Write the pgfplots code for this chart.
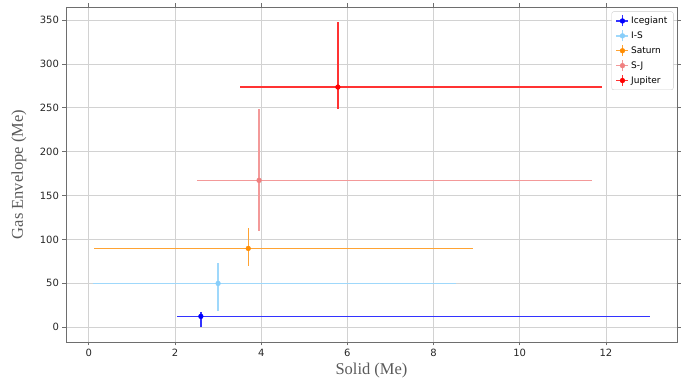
\documentclass[border=0pt]{standalone}
\usepackage{pgfplots}
\usepackage{pgfplotstable}
\pgfplotsset{compat=1.18}
\usepackage{fontspec}
\setmainfont{DejaVu Sans}
\newfontfamily\labelfont{Liberation Serif}
\usetikzlibrary{calc}

\definecolor{cIce}{RGB}{0,0,255}
\definecolor{cIS}{RGB}{135,206,250}
\definecolor{cSat}{RGB}{255,140,0}
\definecolor{cSJ}{RGB}{240,128,128}
\definecolor{cJup}{RGB}{255,0,0}
\definecolor{spinegray}{RGB}{110,110,110}
\definecolor{tickgray}{RGB}{38,38,38}
\definecolor{labelgray}{RGB}{90,90,90}
\definecolor{gridgray}{RGB}{210,210,210}
\definecolor{legendgray}{RGB}{204,204,204}

% solid and envelope masses with upper / lower uncertainties
\pgfplotstableread{
x     y      xp     xm    yp    ym
2.60  12.2   10.42  0.55  5.2   11.9
}\icegiant
\pgfplotstableread{
x     y      xp     xm    yp    ym
3.00  49.8   5.51   2.90  22.8  31.6
}\isat
\pgfplotstableread{
x     y      xp     xm    yp    ym
3.70  89.7   5.22   3.58  22.8  20.1
}\saturn
\pgfplotstableread{
x     y      xp     xm    yp    ym
3.95  167.3  7.72   1.43  81.5  57.8
}\sj
\pgfplotstableread{
x     y      xp     xm    yp    ym
5.78  273.7  6.12   2.28  73.7  25.1
}\jupiter

\pgfplotsset{
  planet/.style={
    only marks, mark=*, mark size=2.4pt, color=#1,
    mark options={draw=#1, fill=#1},
    error bars/.cd,
      x dir=both, x explicit, y dir=both, y explicit,
      error mark=none,
      error bar style={draw=#1!80!white, line width=1.5pt},
    /pgfplots/.cd,
    legend image code/.code={
      \draw[draw=#1!80!white, line width=1.5pt]
        (6pt,-5.5pt) -- (6pt,5.5pt) (0pt,0pt) -- (12pt,0pt);
      \fill[fill=#1] (6pt,0pt) circle (2.4pt);
    },
  },
}

\begin{document}
\begin{tikzpicture}
\begin{axis}[
  scale only axis,
  width=611pt, height=335pt,
  xmin=-0.53, xmax=13.65,
  ymin=-17, ymax=365,
  xtick={0,2,...,12},
  ytick={0,50,...,350},
  grid=major,
  grid style={draw=gridgray, line width=0.8pt},
  axis line style={draw=spinegray, line width=0.8pt},
  tick align=outside,
  major tick length=3.5pt,
  tick style={draw=spinegray, line width=0.8pt},
  ticklabel style={font=\fontsize{10}{12}\selectfont, text=tickgray},
  /pgf/number format/assume math mode=true,
  xlabel={Solid (Me)},
  ylabel={Gas Envelope (Me)},
  label style={font=\labelfont\fontsize{16.5}{19}\selectfont, text=labelgray},
  xlabel style={at={(axis description cs:0.5,-0.0866)}, anchor=center},
  ylabel style={at={(axis description cs:-0.0769,0.5)}, anchor=center},
  legend style={
    at={(axis description cs:1,1)}, anchor=north east,
    xshift=-3.5pt, yshift=-4.5pt,
    draw=legendgray, rounded corners=2pt,
    fill=white,
    font=\fontsize{9}{10.5}\selectfont,
    row sep=2.4pt, inner xsep=4pt, inner ysep=3pt,
    /tikz/every even column/.append style={column sep=1pt},
  },
  legend cell align=left,
]
\addplot[planet=cIce] table[x=x, y=y, x error plus=xp, x error minus=xm,
  y error plus=yp, y error minus=ym] {\icegiant};
\addlegendentry{Icegiant}
\addplot[planet=cIS] table[x=x, y=y, x error plus=xp, x error minus=xm,
  y error plus=yp, y error minus=ym] {\isat};
\addlegendentry{I-S}
\addplot[planet=cSat] table[x=x, y=y, x error plus=xp, x error minus=xm,
  y error plus=yp, y error minus=ym] {\saturn};
\addlegendentry{Saturn}
\addplot[planet=cSJ] table[x=x, y=y, x error plus=xp, x error minus=xm,
  y error plus=yp, y error minus=ym] {\sj};
\addlegendentry{S-J}
\addplot[planet=cJup] table[x=x, y=y, x error plus=xp, x error minus=xm,
  y error plus=yp, y error minus=ym] {\jupiter};
\addlegendentry{Jupiter}
\end{axis}
\pgfresetboundingbox
\path[use as bounding box]
  ($(current axis.south west)+(-66pt,-41pt)$)
  rectangle ($(current axis.north east)+(14pt,7pt)$);
\end{tikzpicture}
\end{document}
